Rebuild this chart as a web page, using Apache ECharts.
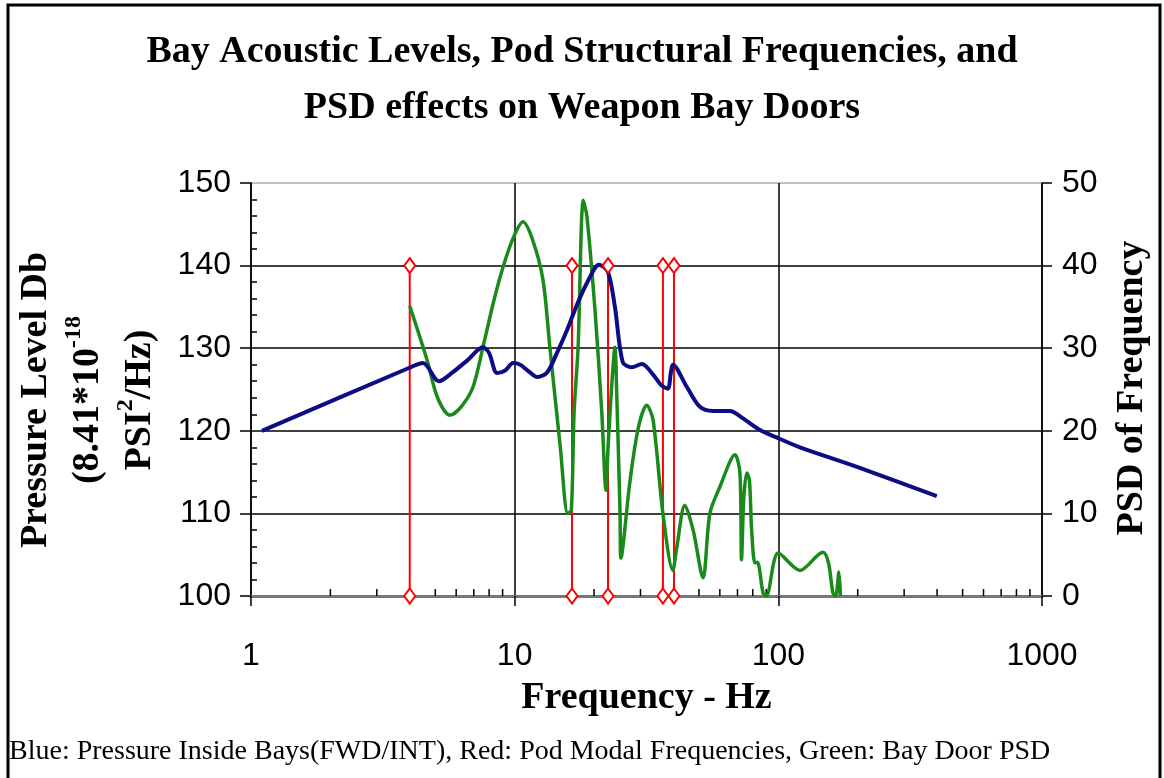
<!DOCTYPE html>
<html>
<head>
<meta charset="utf-8">
<script src="https://cdn.jsdelivr.net/npm/echarts@6/dist/echarts.min.js"></script>
<style>
  html, body { margin: 0; padding: 0; background: #fff; }
  #chart { width: 1164px; height: 778px; }
</style>
</head>
<body>
<div id="chart"></div>
<script>
// Blue: pressure inside bays [Hz, dB] (left axis)
const pressureData = [
  [1.1, 120], [3.97, 127.6], [4.49, 128.2], [5.16, 126.0], [5.83, 127.1], [6.6, 128.5],
  [7.58, 130.1], [8.0, 129.4], [8.57, 127.0], [9.2, 127.3], [9.86, 128.2], [10.5, 128.0],
  [11.3, 127.2], [12.2, 126.5], [13.3, 127.1], [14.5, 129.5], [15.8, 132.2], [17.2, 135.2],
  [18.8, 137.9], [20.9, 140.1], [22.6, 139.2], [24.0, 135.0], [25.7, 128.3], [27.8, 127.7],
  [30.4, 128.1], [33.5, 126.8], [36, 125.5], [38.1, 125.1], [39.1, 127.0], [39.8, 128.0],
  [45.0, 125.3], [50.4, 122.9], [56.5, 122.4], [65.5, 122.4], [73.4, 121.5], [85.2, 120.1],
  [100, 119.1], [120.8, 118.0], [200, 115.6], [399, 112.1]
];

// Green: bay door PSD [Hz, PSD] (right axis)
const psdData = [
  [4.0, 35.1], [4.65, 28.6], [5.1, 24], [5.69, 21.9], [6.3, 23], [6.95, 25.3], [7.58, 30.1],
  [8.3, 35.5], [9.03, 39.8], [9.86, 43.3], [10.75, 45.3], [11.7, 43.1], [12.8, 38.3],
  [13.6, 30.1], [14.9, 18.0], [15.9, 10.0], [16.4, 10.4], [16.8, 22.2], [17.4, 30.1],
  [18.2, 47.9], [18.8, 45.9], [20.2, 34.3], [21.4, 22.2], [22.2, 12.8], [22.6, 18.0],
  [23.4, 26], [24.0, 30.1], [24.4, 24.1], [25.1, 10.0], [25.3, 4.6], [27.4, 14.0],
  [29.5, 20.5], [31.7, 23.1], [33.5, 21.3], [36.5, 10.0], [39.8, 3.1], [41.2, 5.9],
  [44.2, 11.0], [47.5, 8.0], [51.8, 2.2], [55.0, 10.0], [60.0, 13.2], [68.5, 17.1],
  [71.5, 14.9], [72.5, 4.4], [74, 12], [76.0, 14.9], [77.7, 14.0], [79.2, 8.0],
  [81.5, 4.0], [83.3, 4.1], [87.5, 0.4], [90, 0], [100, 5.2], [120.8, 3.1], [147.6, 5.3],
  [155, 4], [161, 0.4], [165, 0], [169.7, 2.9], [172, 0]
];

// Red: pod modal frequencies (Hz), drawn from 100 to 140 dB
const modalFreqs = [4, 16.5, 22.6, 36.5, 40.2];
const modalLow = 100;
const modalHigh = 140;

// log axis minor tick positions
const minorFreqs = [2, 3, 4, 5, 6, 7, 8, 9, 20, 30, 40, 50, 60, 70, 80, 90,
  200, 300, 400, 500, 600, 700, 800, 900];

const leftTicks = { min: 100, max: 150, interval: 10 };
const rightTicks = { min: 0, max: 50, interval: 10 };

const modalData = [];
modalFreqs.forEach(f => {
  modalData.push([f, modalLow], [f, modalHigh], [f, '-']);
});

const serif = 'Liberation Serif';
const sans = 'Liberation Sans';

const chart = echarts.init(document.getElementById('chart'));

chart.setOption({
  backgroundColor: '#fff',
  animation: false,
  title: {
    text: 'Bay Acoustic Levels, Pod Structural Frequencies, and\nPSD effects on Weapon Bay Doors',
    left: 'center',
    top: 24,
    padding: 0,
    textStyle: { fontFamily: serif, fontWeight: 'bold', fontSize: 38, lineHeight: 56, color: '#000' }
  },
  grid: { left: 251, right: 122, top: 183, bottom: 182, show: false },
  xAxis: {
    type: 'log',
    logBase: 10,
    min: 1,
    max: 1000,
    axisLine: { lineStyle: { color: '#777', width: 3 } },
    axisTick: { show: true, length: 10, lineStyle: { color: '#000', width: 1.5 } },
    axisLabel: { fontFamily: sans, fontSize: 32, color: '#000', margin: 44, formatter: v => String(v) },
    splitLine: { show: true, lineStyle: { color: '#000', width: 1.5 } },
    name: 'Frequency - Hz',
    nameLocation: 'middle',
    nameGap: 83,
    nameTextStyle: { fontFamily: serif, fontWeight: 'bold', fontSize: 38, color: '#000' }
  },
  yAxis: [
    {
      type: 'value',
      position: 'left',
      min: leftTicks.min,
      max: leftTicks.max,
      interval: leftTicks.interval,
      axisLine: { show: true, lineStyle: { color: '#000', width: 1.5 } },
      axisTick: { show: true, length: 11, lineStyle: { color: '#000', width: 1.5 } },
      axisLabel: { fontFamily: sans, fontSize: 32, color: '#000', margin: 20 },
      splitLine: {
        show: true,
        lineStyle: { color: ['#000', '#000', '#000', '#000', '#000', '#aaa'], width: 1.5 }
      }
    },
    {
      type: 'value',
      position: 'left',
      min: leftTicks.min,
      max: leftTicks.max,
      interval: leftTicks.interval,
      axisLine: { show: false },
      axisTick: { show: false, inside: true },
      minorTick: { show: true, splitNumber: 5, length: 6, lineStyle: { color: '#000', width: 1.5 } },
      axisLabel: { show: false },
      splitLine: { show: false }
    },
    {
      type: 'value',
      position: 'right',
      min: rightTicks.min,
      max: rightTicks.max,
      interval: rightTicks.interval,
      axisLine: { show: true, lineStyle: { color: '#000', width: 1.5 } },
      axisTick: { show: true, length: 10, lineStyle: { color: '#000', width: 1.5 } },
      axisLabel: { fontFamily: sans, fontSize: 32, color: '#000', margin: 20 },
      splitLine: { show: false }
    }
  ],
  series: [
    {
      name: 'minor ticks',
      type: 'custom',
      silent: true,
      clip: false,
      xAxisIndex: 0,
      yAxisIndex: 0,
      data: minorFreqs.map(f => [f, leftTicks.min]),
      renderItem: (params, api) => {
        const p = api.coord([api.value(0), api.value(1)]);
        return {
          type: 'line',
          shape: { x1: p[0], y1: p[1], x2: p[0], y2: p[1] - 7 },
          style: { stroke: '#000', lineWidth: 1.5 }
        };
      }
    },
    {
      name: 'Pod Modal Frequencies',
      type: 'line',
      yAxisIndex: 0,
      data: modalData,
      connectNulls: false,
      showAllSymbol: true,
      symbol: 'emptyDiamond',
      symbolSize: [11, 15],
      lineStyle: { color: '#ff0000', width: 2 },
      itemStyle: { color: '#ff0000', borderWidth: 1.2 }
    },
    {
      name: 'Bay Door PSD',
      type: 'line',
      yAxisIndex: 2,
      data: psdData,
      smooth: 0.3,
      showSymbol: false,
      lineStyle: { color: '#1a8a1a', width: 3.5 }
    },
    {
      name: 'Pressure Inside Bays',
      type: 'line',
      yAxisIndex: 0,
      data: pressureData,
      smooth: 0.3,
      showSymbol: false,
      lineStyle: { color: '#0c0c84', width: 4 }
    }
  ],
  graphic: [
    {
      type: 'rect',
      silent: true,
      shape: { x: 8, y: 5, width: 1152, height: 800 },
      style: { fill: 'none', stroke: '#000', lineWidth: 3 }
    },
    {
      type: 'text',
      x: 88,
      y: 400,
      rotation: Math.PI / 2,
      style: {
        text: 'Pressure Level Db\n(8.41*10{sup|-18}\nPSI{sup|2}/Hz)',
        fontFamily: serif,
        fontWeight: 'bold',
        fontSize: 38,
        lineHeight: 52,
        fill: '#000',
        align: 'center',
        verticalAlign: 'middle',
        rich: {
          sup: { fontFamily: serif, fontWeight: 'bold', fontSize: 24, verticalAlign: 'top', lineHeight: 52, padding: [0, 0, 18, 0] }
        }
      }
    },
    {
      type: 'text',
      x: 1132,
      y: 388,
      rotation: Math.PI / 2,
      style: {
        text: 'PSD of Frequency',
        fontFamily: serif,
        fontWeight: 'bold',
        fontSize: 38,
        fill: '#000',
        align: 'center',
        verticalAlign: 'middle'
      }
    },
    {
      type: 'text',
      x: 9,
      y: 752,
      style: {
        text: 'Blue: Pressure Inside Bays(FWD/INT), Red: Pod Modal Frequencies, Green: Bay Door PSD',
        fontFamily: serif,
        fontSize: 28,
        fill: '#000',
        align: 'left',
        verticalAlign: 'middle'
      }
    }
  ]
});
</script>
</body>
</html>
